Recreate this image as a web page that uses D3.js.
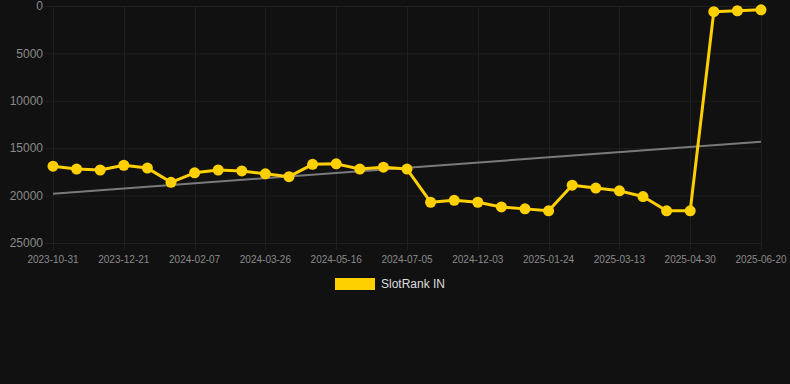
<!DOCTYPE html>
<html>
<head>
<meta charset="utf-8">
<script src="https://cdn.jsdelivr.net/npm/d3@7"></script>
<style>
  html, body { margin: 0; padding: 0; background: #111111; }
  svg { display: block; font-family: "Liberation Sans", Arial, sans-serif; }
</style>
</head>
<body>
<svg id="chart" width="790" height="384"></svg>
<script>
// category labels, one per point (only every third is shown on the axis)
const dates = [
  "2023-10-31", "2023-11-17", "2023-12-04",
  "2023-12-21", "2024-01-06", "2024-01-22",
  "2024-02-07", "2024-02-23", "2024-03-10",
  "2024-03-26", "2024-04-12", "2024-04-29",
  "2024-05-16", "2024-06-02", "2024-06-18",
  "2024-07-05", "2024-08-25", "2024-10-14",
  "2024-12-03", "2024-12-20", "2025-01-07",
  "2025-01-24", "2025-02-09", "2025-02-25",
  "2025-03-13", "2025-03-29", "2025-04-14",
  "2025-04-30", "2025-05-17", "2025-06-03",
  "2025-06-20",
];

const ranks = [
  16900, 17200, 17300, 16800, 17100, 18600, 17600, 17300, 17400, 17700,
  18000, 16700, 16650, 17200, 17000, 17200, 20700, 20500, 20700, 21200,
  21400, 21600, 18900, 19200, 19500, 20100, 21600, 21600, 600, 500,
  400,
];

// trend line, value at first and last category
const trend = [19800, 14320];

const yTicks = [0, 5000, 10000, 15000, 20000, 25000];
const seriesName = "SlotRank IN";
const gold = "#ffd000";

const svg = d3.select("#chart");
const margin = { left: 53, right: 29, top: 6, bottom: 141 };
const width = 790, height = 384;

const x = d3.scalePoint()
  .domain(dates)
  .range([margin.left, width - margin.right]);

const y = d3.scaleLinear()
  .domain([0, 25000])
  .range([margin.top, height - margin.bottom]);

// the axis skips to every third label
const shownDates = dates.filter((d, i) => i % 3 === 0);

// grid
const grid = svg.append("g");
grid.selectAll(".hgrid")
  .data(yTicks)
  .join("line")
  .attr("x1", margin.left - 8)
  .attr("x2", width - margin.right)
  .attr("y1", (d) => y(d) + 0.5)
  .attr("y2", (d) => y(d) + 0.5)
  .attr("stroke", "#1f1f1f")
  .attr("stroke-width", 1);

grid.selectAll(".vgrid")
  .data(shownDates)
  .join("line")
  .attr("x1", (d) => Math.round(x(d)) + 0.5)
  .attr("x2", (d) => Math.round(x(d)) + 0.5)
  .attr("y1", margin.top)
  .attr("y2", y(25000) + 7)
  .attr("stroke", "#1f1f1f")
  .attr("stroke-width", 1);

// y labels
svg.append("g")
  .selectAll("text")
  .data(yTicks)
  .join("text")
  .attr("x", 43)
  .attr("y", (d) => y(d))
  .attr("dy", "0.35em")
  .attr("text-anchor", "end")
  .attr("fill", "#8a8a8a")
  .attr("font-size", 12)
  .text((d) => d);

// x labels
svg.append("g")
  .selectAll("text")
  .data(shownDates)
  .join("text")
  .attr("x", (d) => x(d))
  .attr("y", y(25000) + 20)
  .attr("text-anchor", "middle")
  .attr("fill", "#8a8a8a")
  .attr("font-size", 10)
  .text((d) => d);

// trend
svg.append("line")
  .attr("x1", x(dates[0]))
  .attr("y1", y(trend[0]))
  .attr("x2", x(dates[dates.length - 1]))
  .attr("y2", y(trend[1]))
  .attr("stroke", "#7a7a7a")
  .attr("stroke-width", 2);

// series
const line = d3.line()
  .x((d, i) => x(dates[i]))
  .y((d) => y(d));

svg.append("path")
  .attr("d", line(ranks))
  .attr("fill", "none")
  .attr("stroke", gold)
  .attr("stroke-width", 3)
  .attr("stroke-linejoin", "round");

svg.append("g")
  .selectAll("circle")
  .data(ranks)
  .join("circle")
  .attr("cx", (d, i) => x(dates[i]))
  .attr("cy", (d) => y(d))
  .attr("r", 5.5)
  .attr("fill", gold);

// legend
const legend = svg.append("g");
legend.append("rect")
  .attr("x", 335)
  .attr("y", 278)
  .attr("width", 40)
  .attr("height", 12)
  .attr("fill", gold);
legend.append("text")
  .attr("x", 381)
  .attr("y", 284)
  .attr("dy", "0.35em")
  .attr("fill", "#dddddd")
  .attr("font-size", 12)
  .text(seriesName);
</script>
</body>
</html>
